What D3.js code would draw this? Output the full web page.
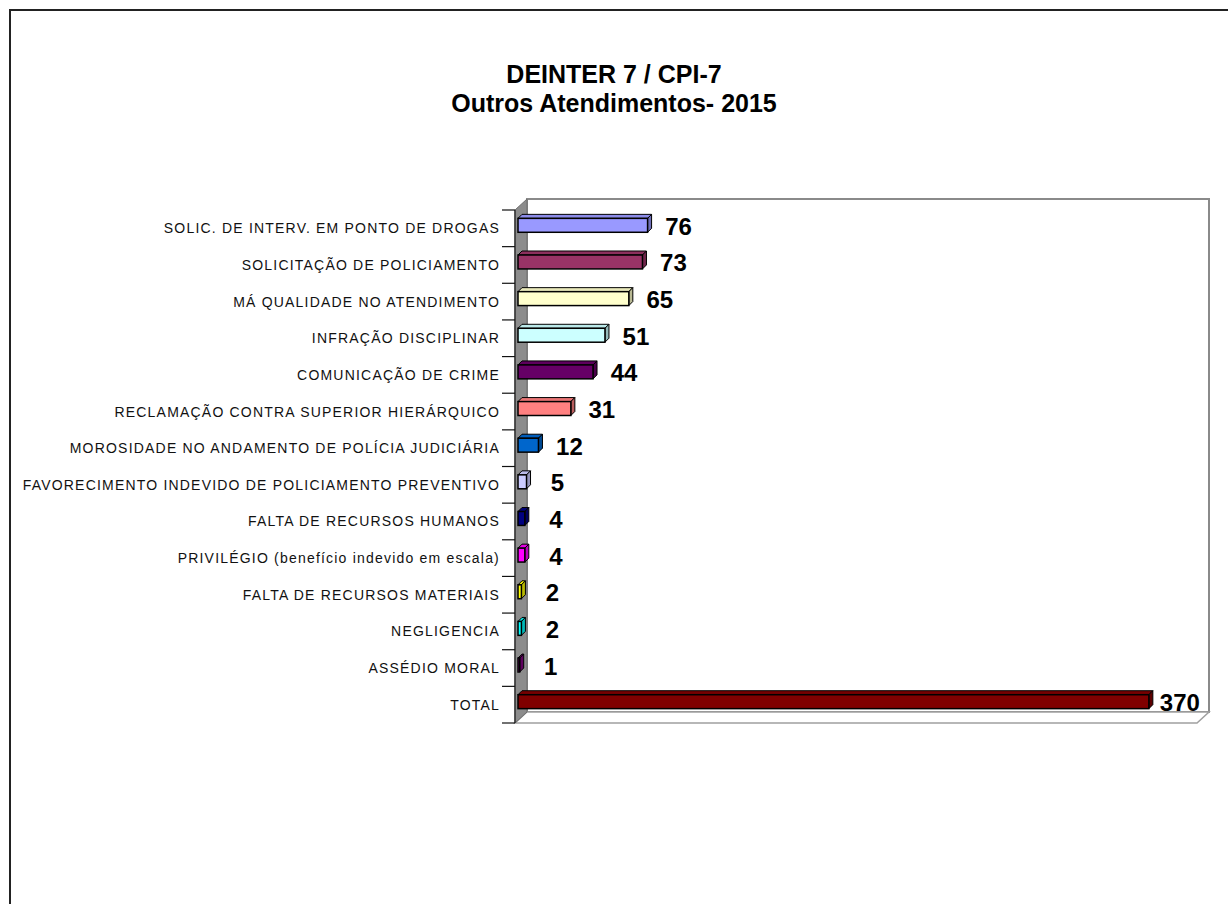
<!DOCTYPE html>
<html>
<head>
<meta charset="utf-8">
<script src="https://cdn.jsdelivr.net/npm/d3@7"></script>
<style>
	body { margin: 0; background: #fff; }
	text { font-family: Arial, 'Liberation Sans', sans-serif; }
</style>
</head>
<body>
<svg id="chart" width="1228" height="904"></svg>
<script>
// chart data, top to bottom as in the picture
const categories = [
	'SOLIC. DE INTERV. EM PONTO DE DROGAS',
	'SOLICITAÇÃO DE POLICIAMENTO',
	'MÁ QUALIDADE NO ATENDIMENTO',
	'INFRAÇÃO DISCIPLINAR',
	'COMUNICAÇÃO DE CRIME',
	'RECLAMAÇÃO CONTRA SUPERIOR HIERÁRQUICO',
	'MOROSIDADE NO ANDAMENTO DE POLÍCIA JUDICIÁRIA',
	'FAVORECIMENTO INDEVIDO DE POLICIAMENTO PREVENTIVO',
	'FALTA DE RECURSOS HUMANOS',
	'PRIVILÉGIO (benefício indevido em escala)',
	'FALTA DE RECURSOS MATERIAIS',
	'NEGLIGENCIA',
	'ASSÉDIO MORAL',
	'TOTAL'
]
const values = [76, 73, 65, 51, 44, 31, 12, 5, 4, 4, 2, 2, 1, 370]
const barColors = [
	'#9999FF', '#993366', '#FFFFCC', '#CCFFFF', '#660066', '#FF8080', '#0066CC',
	'#CCCCFF', '#000080', '#FF00FF', '#FFFF00', '#00FFFF', '#800080', '#800000'
]
const titleLines = ['DEINTER 7 / CPI-7', 'Outros Atendimentos- 2015']
const xMax = 400

const svg = d3.select('#chart')

// outer frame (only top and left edges fall inside the picture)
svg.append('path')
	.attr('d', 'M10,904 L10,10 L1228,10')
	.attr('fill', 'none')
	.attr('stroke', '#222')
	.attr('stroke-width', 2)

// title
svg.append('g')
	.selectAll('text')
	.data(titleLines)
	.join('text')
	.attr('x', 614)
	.attr('y', (d, i) => 74 + i * 29)
	.attr('text-anchor', 'middle')
	.attr('dominant-baseline', 'central')
	.attr('font-size', 25)
	.attr('font-weight', 'bold')
	.text(d => d)

// front plane of the 3d box
const pLeft = 515, pRight = 1197, pTop = 210, pBottom = 723
const wallDx = 12, wallDy = -11
const barDx = 3, barDy = -3, depth = 4

const x = d3.scaleLinear().domain([0, xMax]).range([pLeft, pRight])
const y = d3.scaleBand().domain(categories).range([pTop, pBottom])

// back wall
svg.append('rect')
	.attr('x', pLeft + wallDx)
	.attr('y', pTop + wallDy)
	.attr('width', pRight - pLeft)
	.attr('height', pBottom - pTop)
	.attr('fill', '#fff')
	.attr('stroke', '#8a8a8a')
	.attr('stroke-width', 2)

// floor
svg.append('polygon')
	.attr('points', [
		[pLeft, pBottom], [pLeft + wallDx, pBottom + wallDy],
		[pRight + wallDx, pBottom + wallDy], [pRight, pBottom]
	].join(' '))
	.attr('fill', '#fff')
	.attr('stroke', '#a0a0a0')
	.attr('stroke-width', 1.5)

// side wall
svg.append('polygon')
	.attr('points', [
		[pLeft, pTop], [pLeft + wallDx, pTop + wallDy],
		[pLeft + wallDx, pBottom + wallDy], [pLeft, pBottom]
	].join(' '))
	.attr('fill', '#8c8c8c')
	.attr('stroke', '#6e6e6e')
	.attr('stroke-width', 1)

// category axis line and ticks
svg.append('line')
	.attr('x1', pLeft).attr('x2', pLeft)
	.attr('y1', pTop).attr('y2', pBottom)
	.attr('stroke', '#333')
	.attr('stroke-width', 1.5)
const tickPos = categories.map(c => y(c)).concat([pBottom])
svg.append('g')
	.selectAll('line')
	.data(tickPos)
	.join('line')
	.attr('x1', pLeft - 13).attr('x2', pLeft)
	.attr('y1', d => d).attr('y2', d => d)
	.attr('stroke', '#111')
	.attr('stroke-width', 1.2)

// category labels
svg.append('g')
	.selectAll('text')
	.data(categories)
	.join('text')
	.attr('x', 500)
	.attr('y', d => y(d) + y.bandwidth() / 2)
	.attr('text-anchor', 'end')
	.attr('dominant-baseline', 'central')
	.attr('font-size', 14)
	.attr('letter-spacing', 1.2)
	.attr('fill', '#111')
	.text(d => d)

// 3d bars
const barH = y.bandwidth() * 0.38
const bars = svg.append('g')
	.selectAll('g')
	.data(categories.map((c, i) => ({ c, v: values[i], col: barColors[i] })))
	.join('g')

bars.each(function (d) {
	const g = d3.select(this)
	const x0 = x(0) + barDx
	const x1 = x(d.v) + barDx
	const y0 = y(d.c) + y.bandwidth() / 2 - barH / 2 + barDy
	const y1 = y0 + barH
	const c = d3.color(d.col)
	// top face
	g.append('polygon')
		.attr('points', [[x0, y0], [x0 + depth, y0 - depth], [x1 + depth, y0 - depth], [x1, y0]].join(' '))
		.attr('fill', c.darker(0.25))
		.attr('stroke', '#000')
		.attr('stroke-width', 1)
		.attr('stroke-linejoin', 'round')
	// side face
	g.append('polygon')
		.attr('points', [[x1, y0], [x1 + depth, y0 - depth], [x1 + depth, y1 - depth], [x1, y1]].join(' '))
		.attr('fill', c.darker(0.9))
		.attr('stroke', '#000')
		.attr('stroke-width', 1)
		.attr('stroke-linejoin', 'round')
	// front face
	g.append('rect')
		.attr('x', x0)
		.attr('y', y0)
		.attr('width', x1 - x0)
		.attr('height', barH)
		.attr('fill', d.col)
		.attr('stroke', '#000')
		.attr('stroke-width', 1.5)
})

// value labels
svg.append('g')
	.selectAll('text')
	.data(categories.map((c, i) => ({ c, v: values[i] })))
	.join('text')
	.attr('x', d => x(d.v) + barDx + 31)
	.attr('y', d => y(d.c) + y.bandwidth() / 2 + barDy + 1)
	.attr('text-anchor', 'middle')
	.attr('dominant-baseline', 'central')
	.attr('font-size', 24)
	.attr('font-weight', 'bold')
	.attr('fill', '#000')
	.text(d => d.v)
</script>
</body>
</html>
